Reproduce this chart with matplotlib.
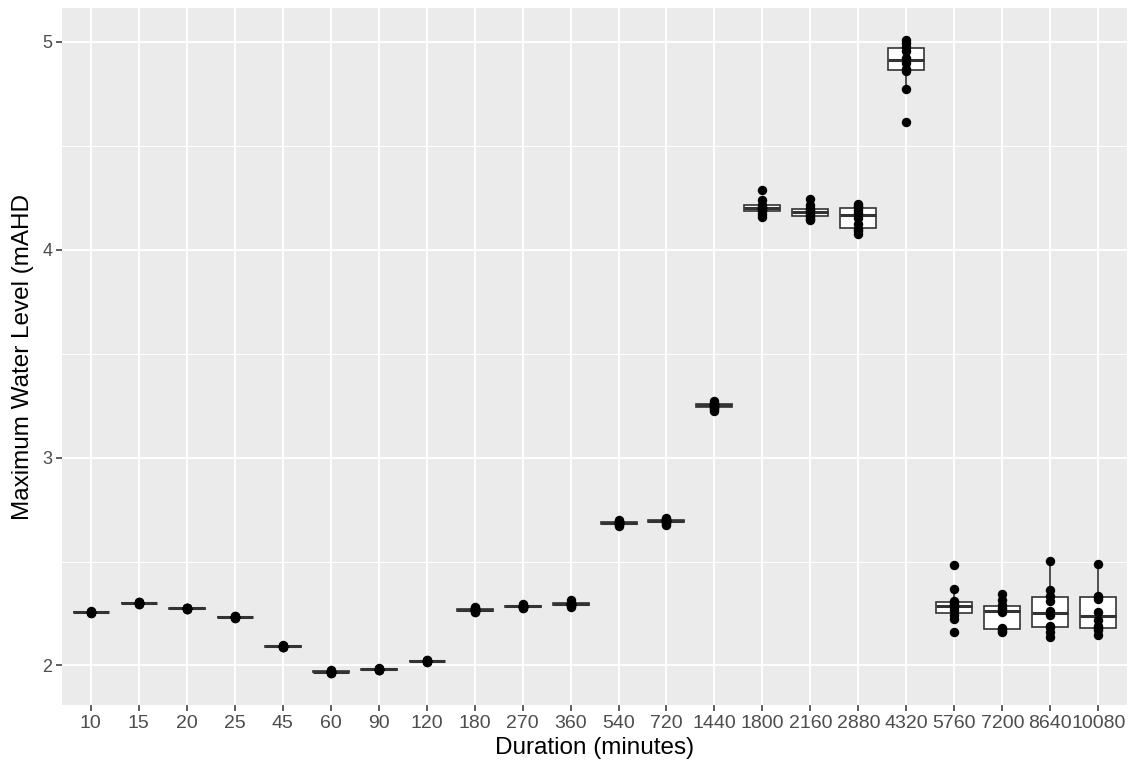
import numpy as np
import matplotlib.pyplot as plt

plt.rcParams['font.family'] = ['Liberation Sans', 'DejaVu Sans']

# durations (minutes) and the ensemble of peak levels for each
durations = ["10", "15", "20", "25", "45", "60", "90", "120", "180", "270", "360",
             "540", "720", "1440", "1800", "2160", "2880", "4320", "5760", "7200",
             "8640", "10080"]

levels = [
    [2.252, 2.254, 2.255, 2.256, 2.256, 2.257, 2.257, 2.258, 2.259, 2.260],
    [2.294, 2.296, 2.298, 2.299, 2.300, 2.301, 2.302, 2.303, 2.304, 2.306],
    [2.270, 2.271, 2.272, 2.273, 2.274, 2.274, 2.275, 2.276, 2.277, 2.278],
    [2.228, 2.230, 2.231, 2.232, 2.233, 2.233, 2.234, 2.235, 2.236, 2.238],
    [2.088, 2.089, 2.090, 2.091, 2.092, 2.092, 2.093, 2.094, 2.095, 2.096],
    [1.962, 1.964, 1.966, 1.968, 1.969, 1.970, 1.971, 1.972, 1.974, 1.976],
    [1.976, 1.978, 1.979, 1.980, 1.981, 1.982, 1.983, 1.984, 1.985, 1.987],
    [2.016, 2.018, 2.019, 2.020, 2.021, 2.021, 2.022, 2.023, 2.024, 2.026],
    [2.255, 2.258, 2.262, 2.265, 2.268, 2.270, 2.272, 2.274, 2.276, 2.280],
    [2.275, 2.278, 2.280, 2.282, 2.284, 2.285, 2.286, 2.288, 2.290, 2.294],
    [2.283, 2.287, 2.290, 2.292, 2.294, 2.296, 2.297, 2.299, 2.302, 2.315],
    [2.672, 2.676, 2.680, 2.683, 2.686, 2.688, 2.690, 2.692, 2.695, 2.700],
    [2.678, 2.683, 2.688, 2.692, 2.695, 2.698, 2.700, 2.702, 2.705, 2.710],
    [3.225, 3.232, 3.240, 3.245, 3.250, 3.253, 3.256, 3.260, 3.265, 3.272],
    [4.160, 4.172, 4.185, 4.192, 4.198, 4.203, 4.208, 4.215, 4.238, 4.287],
    [4.142, 4.150, 4.158, 4.168, 4.178, 4.186, 4.192, 4.200, 4.215, 4.245],
    [4.077, 4.088, 4.100, 4.125, 4.155, 4.175, 4.190, 4.204, 4.212, 4.222],
    [4.617, 4.774, 4.862, 4.870, 4.900, 4.922, 4.955, 4.975, 4.995, 5.011],
    [2.161, 2.225, 2.245, 2.265, 2.283, 2.292, 2.300, 2.308, 2.366, 2.483],
    [2.160, 2.165, 2.175, 2.180, 2.255, 2.266, 2.278, 2.290, 2.314, 2.346],
    [2.137, 2.160, 2.185, 2.190, 2.245, 2.262, 2.310, 2.335, 2.362, 2.502],
    [2.145, 2.170, 2.180, 2.190, 2.220, 2.255, 2.318, 2.330, 2.335, 2.486],
]

y_major = [2, 3, 4, 5]
y_minor = [2.5, 3.5, 4.5]

fig = plt.figure(figsize=(11.32, 7.67), dpi=100)
ax = fig.add_axes([0.0548, 0.0808, 0.9408, 0.9088])
ax.set_facecolor("#EBEBEB")

pos = np.arange(len(durations))
line_col = "#333333"

ax.boxplot(levels, positions=pos, widths=0.75, whis=1.5, showfliers=False,
           patch_artist=True, manage_ticks=False,
           boxprops=dict(facecolor="white", edgecolor=line_col, linewidth=1.2),
           medianprops=dict(color=line_col, linewidth=2.2),
           whiskerprops=dict(color=line_col, linewidth=1.2),
           capprops=dict(linewidth=0), zorder=3)

for p, vals in zip(pos, levels):
    ax.plot(np.full(len(vals), p), vals, "o", color="black", markersize=6.8,
            markeredgewidth=0, zorder=4)

# ggplot style expansion of the y range
lo = min(min(v) for v in levels)
hi = max(max(v) for v in levels)
pad = (hi - lo) * 0.05
ax.set_ylim(lo - pad, hi + pad)
ax.set_xlim(-0.6, len(durations) - 0.4)

ax.set_xticks(pos)
ax.set_xticklabels(durations)
ax.set_yticks(y_major)
ax.set_yticks(y_minor, minor=True)

ax.grid(True, which="major", color="white", linewidth=1.4, zorder=0)
ax.grid(True, which="minor", axis="y", color="white", linewidth=0.7, zorder=0)
ax.set_axisbelow(True)

for s in ax.spines.values():
    s.set_visible(False)

ax.tick_params(axis="both", which="major", length=4, width=1.1, color=line_col,
               labelcolor="#4D4D4D", labelsize=13, pad=3)
ax.tick_params(axis="x", which="major", labelsize=14)
ax.tick_params(axis="both", which="minor", length=0)

ax.set_xlabel("Duration (minutes)", fontsize=17.5, color="black", labelpad=4)
ax.set_ylabel("Maximum Water Level (mAHD", fontsize=17.5, color="black", labelpad=6)

fig.savefig("out.png", dpi=100)
